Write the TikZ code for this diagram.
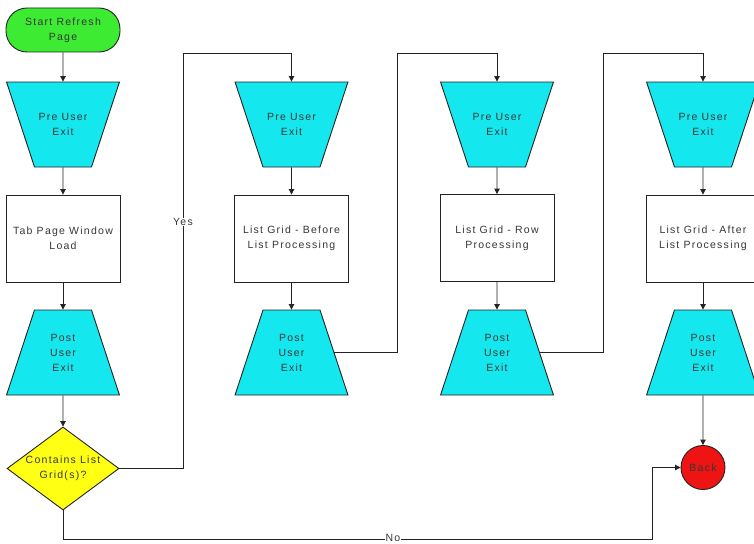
\documentclass[tikz,border=0pt]{standalone}
\usepackage{fontspec}
\setmainfont{Liberation Sans}[LetterSpace=12]
\usetikzlibrary{shapes.geometric,arrows.meta}
\definecolor{startgreen}{RGB}{60,235,50}
\definecolor{exitcyan}{RGB}{20,232,238}
\definecolor{decyellow}{RGB}{255,255,20}
\definecolor{backred}{RGB}{238,20,20}
\definecolor{ink}{RGB}{35,35,35}
\definecolor{txt}{RGB}{55,55,55}
\newcommand{\exittext}[1]{\parbox[c][85pt][c]{57pt}{\centering #1}}
\tikzset{
  base/.style={draw=ink, line width=0.9pt, align=center, text=txt,
    font=\fontsize{10.5}{15}\selectfont, inner sep=0pt},
  startbox/.style={base, fill=startgreen, rectangle, rounded corners=21pt,
    minimum width=114pt, minimum height=44pt},
  preexit/.style={base, fill=exitcyan, trapezium, trapezium left angle=108.2,
    trapezium right angle=108.2},
  postexit/.style={base, fill=exitcyan, trapezium, trapezium left angle=71.8,
    trapezium right angle=71.8},
  procbox/.style={base, fill=white, rectangle, minimum width=114pt, minimum height=87pt},
  decbox/.style={base, fill=decyellow, diamond, minimum width=112pt, minimum height=83pt},
  backcirc/.style={base, fill=backred, circle, minimum size=44pt},
  conn/.style={draw=ink, line width=0.9pt, -{Triangle[width=5.5pt,length=5.5pt]}},
  lbl/.style={fill=white, text=txt, font=\fontsize{10.5}{12}\selectfont, inner sep=0.8pt}
}
\begin{document}
\begin{tikzpicture}[x=1pt,y=-1pt]
\useasboundingbox (0,0) rectangle (754,543);
\clip (0,0) rectangle (754,543);
\fill[white] (0,0) rectangle (754,543);

% column 1
\node[startbox] (start) at (63,30) {Start Refresh\\Page};
\node[preexit]  (pre1)  at (63,124.5) {\exittext{Pre User\\Exit}};
\node[procbox]  (box1)  at (63,238.5) {Tab Page Window\\Load};
\node[postexit] (post1) at (63,352.5) {\exittext{Post\\User\\Exit}};
\node[decbox]   (dec)   at (63,468.5) {\makebox[0pt]{Contains List}\\\makebox[0pt]{Grid(s)?}};

% column 2
\node[preexit]  (pre2)  at (291.5,124.5) {\exittext{Pre User\\Exit}};
\node[procbox]  (box2)  at (291.5,238.5) {List Grid - Before\\List Processing};
\node[postexit] (post2) at (291.5,352.5) {\exittext{Post\\User\\Exit}};

% column 3
\node[preexit]  (pre3)  at (497,124.5) {\exittext{Pre User\\Exit}};
\node[procbox]  (box3)  at (497,238) {List Grid - Row\\Processing};
\node[postexit] (post3) at (497,352.5) {\exittext{Post\\User\\Exit}};

% column 4
\node[preexit]  (pre4)  at (703,124.5) {\exittext{Pre User\\Exit}};
\node[procbox]  (box4)  at (703,238.5) {List Grid - After\\List Processing};
\node[postexit] (post4) at (703,352.5) {\exittext{Post\\User\\Exit}};
\node[backcirc] (back)  at (703,467.5) {Back};

% routing points
\coordinate (r1) at (183,53);
\coordinate (r2) at (397,53);
\coordinate (r3) at (603,53);
\coordinate (n1) at (652,539);

% connectors
\draw[conn] (start) -- (pre1);
\draw[conn] (pre1) -- (box1);
\draw[conn] (box1) -- (post1);
\draw[conn] (post1) -- (dec);
\draw[conn] (dec.east) -| (r1) -| (pre2.north);
\draw[conn] (pre2) -- (box2);
\draw[conn] (box2) -- (post2);
\draw[conn] (post2.east) -| (r2) -| (pre3.north);
\draw[conn] (pre3) -- (box3);
\draw[conn] (box3) -- (post3);
\draw[conn] (post3.east) -| (r3) -| (pre4.north);
\draw[conn] (pre4) -- (box4);
\draw[conn] (box4) -- (post4);
\draw[conn] (post4) -- (back);
\draw[conn] (dec.south) |- (n1) |- (back.west);

% labels
\node[lbl] (yes) at (183,222) {Yes};
\node[lbl] (no)  at (393,537.5) {No};
\end{tikzpicture}
\end{document}
